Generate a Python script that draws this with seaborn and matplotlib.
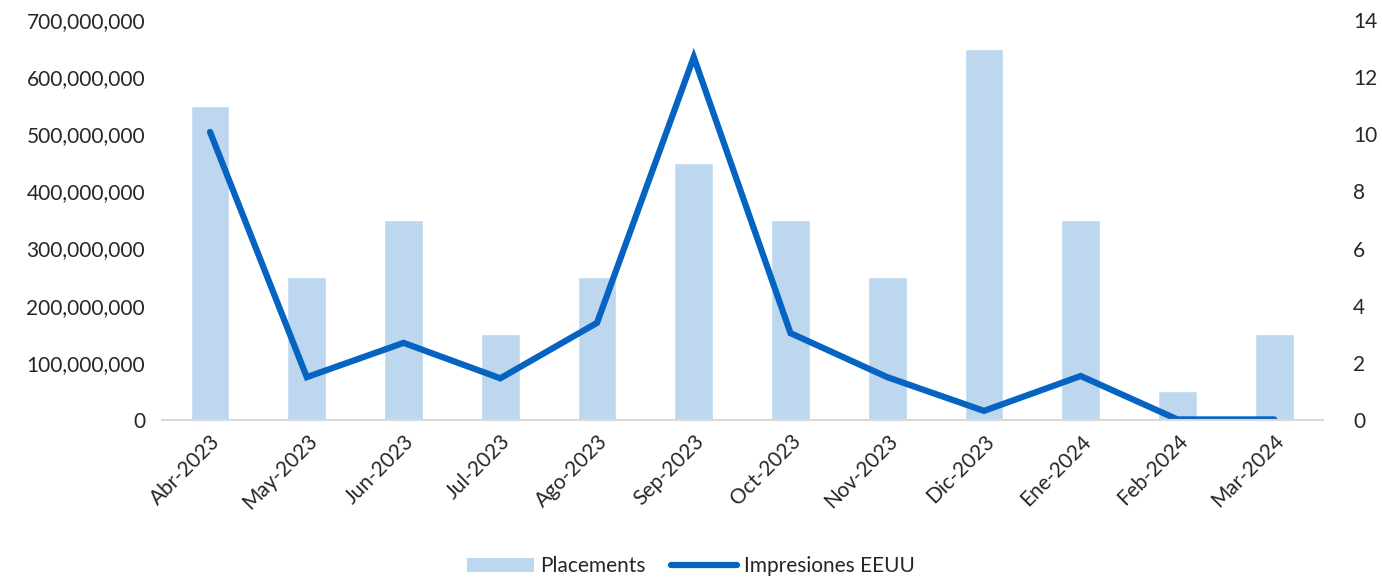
import matplotlib
matplotlib.use("Agg")
import matplotlib.pyplot as plt
import matplotlib.ticker as mticker
import numpy as np
import pandas as pd
import seaborn as sns
from matplotlib.lines import Line2D
from matplotlib.patches import Patch

meses = ['Abr-2023', 'May-2023', 'Jun-2023', 'Jul-2023', 'Ago-2023', 'Sep-2023',
         'Oct-2023', 'Nov-2023', 'Dic-2023', 'Ene-2024', 'Feb-2024', 'Mar-2024']
placements = [11, 5, 7, 3, 5, 9, 7, 5, 13, 7, 1, 3]
impresiones = [504e6, 75e6, 135e6, 73e6, 170e6, 635e6, 152e6, 75e6, 16e6, 77e6, 1e6, 1e6]

df = pd.DataFrame({'mes': meses, 'placements': placements, 'impresiones': impresiones})

sns.set_style('white')
plt.rcParams['font.family'] = ['Lato', 'DejaVu Sans']

color_barra = '#BDD7EE'
color_linea = '#0563C1'
color_texto = '#262626'

fig, ax = plt.subplots(figsize=(13.82, 5.79), dpi=100)
fig.subplots_adjust(left=0.117, right=0.957, bottom=0.2746, top=0.9655)
ax2 = ax.twinx()

# barras (eje derecho) y linea (eje izquierdo)
sns.barplot(data=df, x='mes', y='placements', ax=ax2, color=color_barra,
            saturation=1, width=0.4)
sns.lineplot(data=df, x='mes', y='impresiones', ax=ax, color=color_linea,
             linewidth=4.5, solid_capstyle='round', solid_joinstyle='miter')

ax.set_zorder(ax2.get_zorder() + 1)
ax.patch.set_visible(False)

ax.set_ylim(0, 700e6)
ax.set_yticks(np.arange(0, 700e6 + 1, 100e6))
ax.yaxis.set_major_formatter(mticker.FuncFormatter(lambda v, p: f'{int(v):,}'))
ax2.set_ylim(0, 14)
ax2.set_yticks(np.arange(0, 15, 2))
ax.set_xlim(-0.5, 11.5)

ax.set_xticks(range(len(meses)))
ax.set_xticklabels(meses, rotation=45, ha='right', rotation_mode='anchor')

for a in (ax, ax2):
    a.set_xlabel('')
    a.set_ylabel('')
    for s in a.spines.values():
        s.set_visible(False)
    a.tick_params(axis='both', length=0, labelsize=15, labelcolor=color_texto)
ax.tick_params(axis='y', pad=12)
ax2.tick_params(axis='y', pad=22)
ax.tick_params(axis='x', pad=8)
ax.spines['bottom'].set_visible(True)
ax.spines['bottom'].set_color('#D9D9D9')
ax.spines['bottom'].set_linewidth(1.5)

handles = [Patch(facecolor=color_barra, edgecolor='none', label='Placements'),
           Line2D([0], [0], color=color_linea, linewidth=4.5, solid_capstyle='round',
                  label='Impresiones EEUU')]
fig.legend(handles=handles, loc='center', bbox_to_anchor=(0.5, 0.022), ncol=2,
           frameon=False, fontsize=15, handlelength=3.2, handletextpad=0.3,
           columnspacing=1.2, labelcolor=color_texto)

fig.savefig('out.png', dpi=100)
